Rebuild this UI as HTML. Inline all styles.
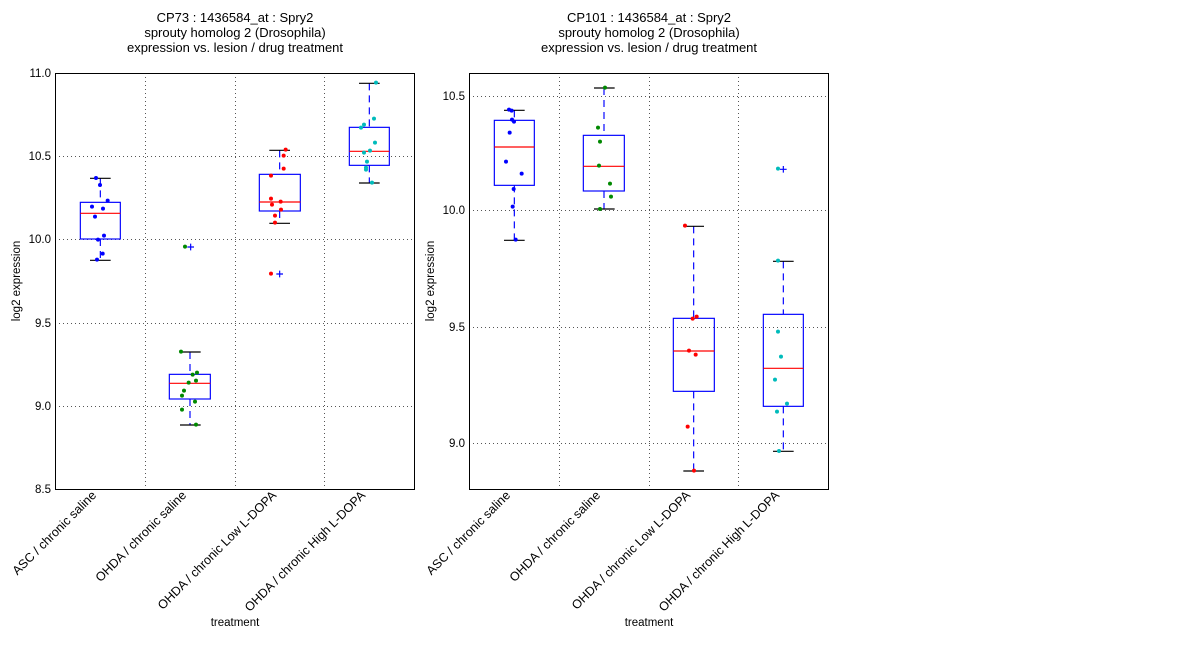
<!DOCTYPE html>
<html><head><meta charset="utf-8"><style>
html,body{margin:0;padding:0;background:#fff;}
svg text{font-family:"Liberation Sans",sans-serif;fill:#000;}
</style></head><body>
<svg width="1200" height="640" viewBox="0 0 1200 640" xmlns="http://www.w3.org/2000/svg">
<rect width="1200" height="640" fill="#fff"/>
<g font-size="13" text-anchor="middle">
<text x="235" y="22">CP73 : 1436584_at : Spry2</text>
<text x="235" y="37">sprouty homolog 2 (Drosophila)</text>
<text x="235" y="52">expression vs. lesion / drug treatment</text>
<text x="649" y="22">CP101 : 1436584_at : Spry2</text>
<text x="649" y="37">sprouty homolog 2 (Drosophila)</text>
<text x="649" y="52">expression vs. lesion / drug treatment</text>
</g>
<!-- LEFT PLOT -->
<g stroke="#555" stroke-width="1" stroke-dasharray="1,3">
<line x1="145.5" y1="73" x2="145.5" y2="489"/><line x1="235.5" y1="73" x2="235.5" y2="489"/><line x1="324.5" y1="73" x2="324.5" y2="489"/>
<line x1="55" y1="156.5" x2="414" y2="156.5"/><line x1="55" y1="239.5" x2="414" y2="239.5"/><line x1="55" y1="323.5" x2="414" y2="323.5"/><line x1="55" y1="406.5" x2="414" y2="406.5"/>
</g>
<g font-size="11.5" text-anchor="end">
<text x="51" y="77">11.0</text><text x="51" y="160">10.5</text><text x="51" y="243">10.0</text><text x="51" y="327">9.5</text><text x="51" y="410">9.0</text><text x="51" y="493">8.5</text>
</g>
<g transform="translate(55,73) scale(0.33333)">
 <g stroke="#00f" stroke-width="3.5" stroke-dasharray="21,15" fill="none">
  <line x1="136" y1="316" x2="136" y2="388"/><line x1="136" y1="498" x2="136" y2="562"/>
  <line x1="405" y1="837" x2="405" y2="904"/><line x1="405" y1="978" x2="405" y2="1056"/>
  <line x1="674" y1="232" x2="674" y2="304"/><line x1="674" y1="414" x2="674" y2="451"/>
  <line x1="943" y1="31" x2="943" y2="163"/><line x1="943" y1="277" x2="943" y2="330"/>
 </g>
 <g stroke="#000" stroke-width="3.5">
  <line x1="105" y1="316" x2="167" y2="316"/><line x1="105" y1="562" x2="167" y2="562"/>
  <line x1="375" y1="837" x2="437" y2="837"/><line x1="375" y1="1056" x2="437" y2="1056"/>
  <line x1="643" y1="232" x2="705" y2="232"/><line x1="643" y1="451" x2="705" y2="451"/>
  <line x1="912" y1="31" x2="974" y2="31"/><line x1="912" y1="330" x2="974" y2="330"/>
 </g>
 <g stroke="#00f" stroke-width="3.5" fill="none">
  <rect x="76" y="388" width="120" height="110"/><rect x="343" y="904" width="123" height="74"/>
  <rect x="613" y="304" width="123" height="110"/><rect x="883" y="163" width="120" height="114"/>
  <path d="M397 522h20M407 512v20M664 603h20M674 593v20"/>
 </g>
 <g stroke="#f00" stroke-width="3.5">
  <line x1="76" y1="421" x2="196" y2="421"/><line x1="343" y1="931" x2="466" y2="931"/>
  <line x1="613" y1="387" x2="736" y2="387"/><line x1="883" y1="235" x2="1003" y2="235"/>
 </g>
 <g fill="#00f"><circle cx="123" cy="315" r="6"/><circle cx="135" cy="336" r="6"/><circle cx="158" cy="383" r="6"/><circle cx="111" cy="401" r="6"/><circle cx="144" cy="407" r="6"/><circle cx="120" cy="431" r="6"/><circle cx="147" cy="488" r="6"/><circle cx="129" cy="500" r="6"/><circle cx="143" cy="542" r="6"/><circle cx="126" cy="560" r="6"/></g>
 <g fill="#080"><circle cx="378" cy="836" r="6"/><circle cx="390" cy="521" r="6"/><circle cx="426" cy="899" r="6"/><circle cx="413" cy="905" r="6"/><circle cx="423" cy="923" r="6"/><circle cx="401" cy="929" r="6"/><circle cx="387" cy="953" r="6"/><circle cx="381" cy="968" r="6"/><circle cx="420" cy="986" r="6"/><circle cx="381" cy="1010" r="6"/><circle cx="423" cy="1055" r="6"/></g>
 <g fill="#f00"><circle cx="692" cy="230" r="6"/><circle cx="686" cy="248" r="6"/><circle cx="686" cy="287" r="6"/><circle cx="648" cy="308" r="6"/><circle cx="648" cy="377" r="6"/><circle cx="677" cy="386" r="6"/><circle cx="651" cy="395" r="6"/><circle cx="678" cy="410" r="6"/><circle cx="660" cy="428" r="6"/><circle cx="660" cy="449" r="6"/><circle cx="648" cy="602" r="6"/></g>
 <g fill="#0bb"><circle cx="963" cy="29" r="6"/><circle cx="957" cy="137" r="6"/><circle cx="927" cy="155" r="6"/><circle cx="918" cy="164" r="6"/><circle cx="960" cy="209" r="6"/><circle cx="945" cy="233" r="6"/><circle cx="927" cy="239" r="6"/><circle cx="936" cy="266" r="6"/><circle cx="933" cy="284" r="6"/><circle cx="933" cy="290" r="6"/><circle cx="951" cy="329" r="6"/></g>
</g>
<rect x="55.5" y="73.5" width="359" height="416" fill="none" stroke="#000" stroke-width="1"/>
<g font-size="12.5" text-anchor="end">
<text transform="translate(97,496) rotate(-45)">ASC / chronic saline</text>
<text transform="translate(187,496) rotate(-45)">OHDA / chronic saline</text>
<text transform="translate(277,496) rotate(-45)">OHDA / chronic Low L-DOPA</text>
<text transform="translate(366,496) rotate(-45)">OHDA / chronic High L-DOPA</text>
</g>
<text x="235" y="626" font-size="11.5" text-anchor="middle">treatment</text>
<text transform="translate(20,281) rotate(-90)" font-size="11.5" text-anchor="middle">log2 expression</text>

<!-- RIGHT PLOT -->
<g stroke="#555" stroke-width="1" stroke-dasharray="1,3">
<line x1="559.5" y1="73" x2="559.5" y2="489"/><line x1="649.5" y1="73" x2="649.5" y2="489"/><line x1="738.5" y1="73" x2="738.5" y2="489"/>
<line x1="469" y1="96.5" x2="828" y2="96.5"/><line x1="469" y1="210.5" x2="828" y2="210.5"/><line x1="469" y1="327.5" x2="828" y2="327.5"/><line x1="469" y1="443.5" x2="828" y2="443.5"/>
</g>
<g font-size="11.5" text-anchor="end">
<text x="465" y="100">10.5</text><text x="465" y="214">10.0</text><text x="465" y="331">9.5</text><text x="465" y="447">9.0</text>
</g>
<g transform="translate(469,73) scale(0.33333)">
 <g stroke="#00f" stroke-width="3.5" stroke-dasharray="21,15" fill="none">
  <line x1="136" y1="112" x2="136" y2="142"/><line x1="136" y1="337" x2="136" y2="502"/>
  <line x1="405" y1="45" x2="405" y2="187"/><line x1="405" y1="354" x2="405" y2="408"/>
  <line x1="674" y1="460" x2="674" y2="736"/><line x1="674" y1="955" x2="674" y2="1194"/>
  <line x1="943" y1="565" x2="943" y2="724"/><line x1="943" y1="1000" x2="943" y2="1135"/>
 </g>
 <g stroke="#000" stroke-width="3.5">
  <line x1="105" y1="112" x2="167" y2="112"/><line x1="105" y1="502" x2="167" y2="502"/>
  <line x1="375" y1="45" x2="437" y2="45"/><line x1="375" y1="408" x2="437" y2="408"/>
  <line x1="643" y1="460" x2="705" y2="460"/><line x1="643" y1="1194" x2="705" y2="1194"/>
  <line x1="912" y1="565" x2="974" y2="565"/><line x1="912" y1="1135" x2="974" y2="1135"/>
 </g>
 <g stroke="#00f" stroke-width="3.5" fill="none">
  <rect x="76" y="142" width="120" height="195"/><rect x="343" y="187" width="123" height="167"/>
  <rect x="613" y="736" width="123" height="219"/><rect x="883" y="724" width="120" height="276"/>
  <path d="M933 289h20M943 279v20"/>
 </g>
 <g stroke="#f00" stroke-width="3.5">
  <line x1="76" y1="222" x2="196" y2="222"/><line x1="343" y1="280" x2="466" y2="280"/>
  <line x1="613" y1="834" x2="736" y2="834"/><line x1="883" y1="886" x2="1003" y2="886"/>
 </g>
 <g fill="#00f"><circle cx="120" cy="110" r="6"/><circle cx="128" cy="113" r="6"/><circle cx="129" cy="140" r="6"/><circle cx="135" cy="146" r="6"/><circle cx="122" cy="179" r="6"/><circle cx="111" cy="266" r="6"/><circle cx="158" cy="302" r="6"/><circle cx="134" cy="348" r="6"/><circle cx="131" cy="401" r="6"/><circle cx="140" cy="500" r="6"/></g>
 <g fill="#080"><circle cx="408" cy="44" r="6"/><circle cx="387" cy="164" r="6"/><circle cx="393" cy="206" r="6"/><circle cx="390" cy="278" r="6"/><circle cx="423" cy="332" r="6"/><circle cx="426" cy="371" r="6"/><circle cx="393" cy="408" r="6"/></g>
 <g fill="#f00"><circle cx="648" cy="458" r="6"/><circle cx="683" cy="731" r="6"/><circle cx="671" cy="737" r="6"/><circle cx="660" cy="833" r="6"/><circle cx="680" cy="845" r="6"/><circle cx="656" cy="1061" r="6"/><circle cx="675" cy="1193" r="6"/></g>
 <g fill="#0bb"><circle cx="927" cy="563" r="6"/><circle cx="927" cy="776" r="6"/><circle cx="936" cy="851" r="6"/><circle cx="918" cy="920" r="6"/><circle cx="954" cy="992" r="6"/><circle cx="924" cy="1016" r="6"/><circle cx="930" cy="1134" r="6"/><circle cx="927" cy="287" r="6"/></g>
</g>
<rect x="469.5" y="73.5" width="359" height="416" fill="none" stroke="#000" stroke-width="1"/>
<g font-size="12.5" text-anchor="end">
<text transform="translate(511,496) rotate(-45)">ASC / chronic saline</text>
<text transform="translate(601,496) rotate(-45)">OHDA / chronic saline</text>
<text transform="translate(691,496) rotate(-45)">OHDA / chronic Low L-DOPA</text>
<text transform="translate(780,496) rotate(-45)">OHDA / chronic High L-DOPA</text>
</g>
<text x="649" y="626" font-size="11.5" text-anchor="middle">treatment</text>
<text transform="translate(434,281) rotate(-90)" font-size="11.5" text-anchor="middle">log2 expression</text>
</svg>
</body></html>
